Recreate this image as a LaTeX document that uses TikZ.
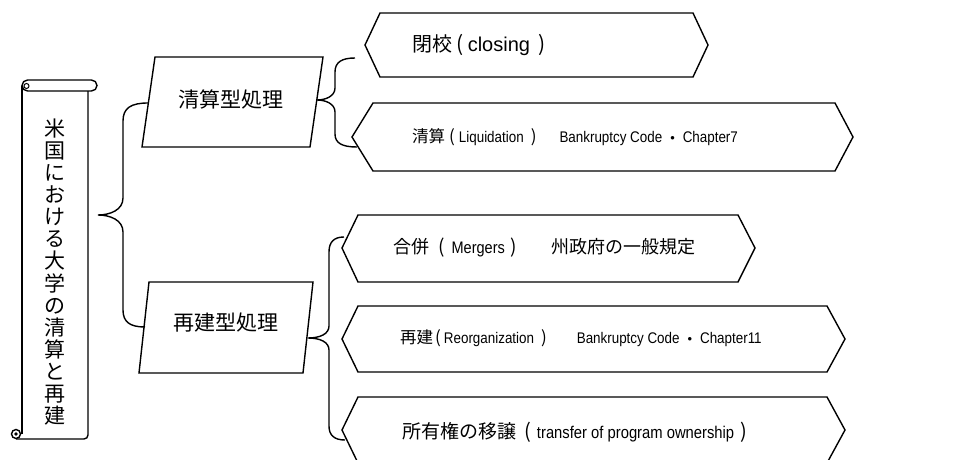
\documentclass[tikz,border=0pt]{standalone}
\usepackage{fontspec}
\setmainfont{Liberation Sans}
\newfontfamily\jp{Noto Sans CJK JP}
\newfontfamily\latn[FakeStretch=0.87]{Liberation Sans}
\newcommand\jtxt[2]{{\jp\fontsize{#1}{#1}\selectfont #2}}
\newcommand\ltxt[2]{{\latn\fontsize{#1}{#1}\selectfont #2}}
\newcommand\wtxt[2]{{\fontsize{#1}{#1}\selectfont #2}}
\newcommand\mdot[1]{\raisebox{-2.2pt}{\jtxt{#1}{・}}}
\newcommand\lpar[1]{\jtxt{#1}{(}}
\newcommand\rpar[1]{\jtxt{#1}{)}}
\begin{document}
\begin{tikzpicture}[x=1pt,y=-1pt,
  ln/.style={line width=1.4pt, line join=miter},
  brace/.style={line width=1.4pt},
  txt/.style={inner sep=0pt, anchor=west}]
\useasboundingbox (0,0) rectangle (958,460);
\fill[white] (0,0) rectangle (958,460);
\clip (0,0) rectangle (958,460);

% scroll
\draw[ln, rounded corners=5.5pt] (22,80) rectangle (97,91);
\draw[ln] (22,86) -- (22,434);
\draw[ln, rounded corners=4pt] (88,91) -- (88,439) -- (16,439);
\draw[line width=1pt] (26.5,86) circle (2.5);
\draw[ln] (16,434) circle (4.5);
\fill (16,434) circle (1.8);
\node[inner sep=0pt, align=center, font=\jp\fontsize{21}{22.1}\selectfont] (scroll) at (55,272)
  {米\\国\\に\\お\\け\\る\\大\\学\\の\\清\\算\\と\\再\\建};

% parallelograms
\draw[ln] (155,57) -- (323,57) -- (310,147) -- (142,147) -- cycle;
\node[inner sep=0pt, font=\jp\fontsize{21}{24}\selectfont] (p1) at (231,99) {清算型処理};
\draw[ln] (149,282) -- (313,282) -- (303,373) -- (139,373) -- cycle;
\node[inner sep=0pt, font=\jp\fontsize{21}{24}\selectfont] (p2) at (226,323) {再建型処理};

% hexagons
\draw[ln] (365,45) -- (380,13) -- (693,13) -- (708,45) -- (693,77) -- (380,77) -- cycle;
\node[txt] (h1) at (412,45) {\jtxt{20}{閉校}\hspace{4.5pt}\lpar{21}\hspace{4pt}\wtxt{20}{closing}\hspace{8pt}\rpar{21}};
\draw[ln] (352,137) -- (373,103) -- (835,103) -- (853,137) -- (835,171) -- (373,171) -- cycle;
\node[txt] (h2) at (412,137) {\jtxt{16.5}{清算}\hspace{4pt}\lpar{17}\hspace{4pt}\ltxt{15.4}{Liquidation}\hspace{7pt}\rpar{17}\hspace{23pt}\ltxt{15.4}{Bankruptcy Code}\hspace{2pt}\mdot{16.5}\hspace{2pt}\ltxt{15.4}{Chapter7}};
\draw[ln] (342,248) -- (358,215) -- (738,215) -- (755,248) -- (738,282) -- (358,282) -- cycle;
\node[txt] (h3) at (393,248) {\jtxt{18}{合併}\hspace{9pt}\lpar{19}\hspace{7pt}\ltxt{16.7}{Mergers}\hspace{6pt}\rpar{19}\hspace{34pt}\jtxt{18}{州政府の一般規定}};
\draw[ln] (342,339) -- (358,306) -- (827,306) -- (845,339) -- (827,372) -- (358,372) -- cycle;
\node[txt] (h4) at (400,338) {\jtxt{16.5}{再建}\hspace{2pt}\lpar{17}\hspace{3pt}\ltxt{15.4}{Reorganization}\hspace{7pt}\rpar{17}\hspace{30pt}\ltxt{15.4}{Bankruptcy Code}\hspace{2pt}\mdot{16.5}\hspace{2pt}\ltxt{15.4}{Chapter11}};
\draw[ln] (342,430) -- (358,397) -- (827,397) -- (845,430) -- (827,463) -- (358,463) -- cycle;
\node[txt] (h5) at (402,432) {\jtxt{19}{所有権の移譲}\hspace{8pt}\lpar{20}\hspace{6pt}\ltxt{17}{transfer of program ownership}\hspace{6pt}\rpar{20}};

% brace coordinates
\coordinate (b0top) at (148,103);
\coordinate (b0tip) at (98,215);
\coordinate (b0bot) at (145,327);
\coordinate (b1top) at (355,58);
\coordinate (b1tip) at (317,100);
\coordinate (b1bot) at (357,147);
\coordinate (b2top) at (344,237);
\coordinate (b2tip) at (308,338);
\coordinate (b2bot) at (345,440);

% braces
\draw[brace] (b0top) .. controls (131,103) and (123,108) .. (123,121) -- (123,198)
  .. controls (123,210) and (110,215) .. (b0tip)
  .. controls (110,215) and (123,220) .. (123,232) -- (123,310)
  .. controls (123,322) and (130,327) .. (b0bot);
\draw[brace] (b1top) .. controls (342,58) and (335,62) .. (335,72) -- (335,88)
  .. controls (335,96) and (326,100) .. (b1tip)
  .. controls (326,100) and (335,104) .. (335,112) -- (335,134)
  .. controls (335,143) and (342,147) .. (b1bot);
\draw[brace] (b2top) .. controls (334,237) and (329,242) .. (329,252) -- (329,326)
  .. controls (329,334) and (320,338) .. (b2tip)
  .. controls (320,338) and (329,342) .. (329,350) -- (329,426)
  .. controls (329,435) and (334,440) .. (b2bot);
\end{tikzpicture}
\end{document}
